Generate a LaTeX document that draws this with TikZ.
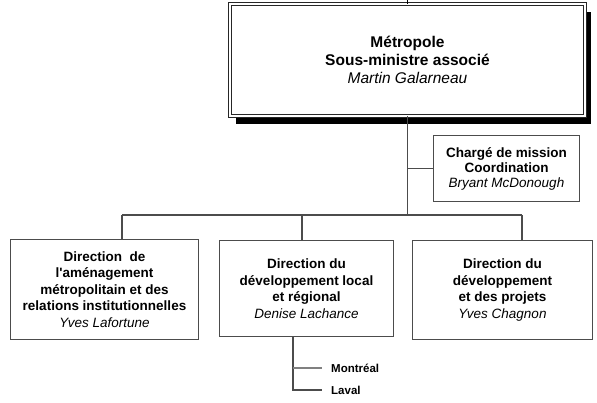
\documentclass[tikz,border=0pt]{standalone}
\usepackage{fontspec}
\setmainfont{Liberation Sans}
\usetikzlibrary{positioning,shadows}

\begin{document}
\begin{tikzpicture}[
        x=1pt, y=-1pt,
        every node/.style={
            align=center,
            inner sep=0pt
        },
        head/.style={
            draw=black!85,
            double=white,
            double distance=2.4pt,
            line width=0.9pt,
            fill=white,
            font=\fontsize{15.5}{18}\selectfont\bfseries,
            drop shadow={shadow xshift=6pt, shadow yshift=-8pt, opacity=1, fill=black}
        },
        unit/.style={
            draw=black!70,
            line width=1.1pt,
            fill=white,
            font=\fontsize{13.5}{16.5}\selectfont\bfseries
        },
        link/.style={draw=black!70, line width=1.1pt},
        city/.style={
            anchor=west,
            inner xsep=9pt,
            font=\fontsize{11.5}{13}\selectfont\bfseries
        }
    ]
        \useasboundingbox (0,0) rectangle (597,402);

        % Top box
        \node[head, minimum width=355pt, minimum height=112pt] (metro) at (407.5,60)
            {Métropole\\Sous-ministre associé\\{\mdseries\itshape Martin Galarneau}};

        % Staff box
        \node[unit, minimum width=146pt, minimum height=66pt,
              font=\fontsize{13.5}{15}\selectfont\bfseries] (charge) at (506.5,168.5)
            {Chargé de mission\\Coordination\\{\mdseries\itshape Bryant McDonough}};

        % Directions
        \node[unit, minimum width=188pt, minimum height=100pt] (dirA) at (104.5,289.5)
            {Direction\ \ de\\l\textquotesingle aménagement\\métropolitain et des\\relations institutionnelles\\{\mdseries\itshape Yves Lafortune}};
        \node[unit, minimum width=174pt, minimum height=96pt] (dirB) at (306.5,288.5)
            {Direction du\\développement local\\et régional\\{\mdseries\itshape Denise Lachance}};
        \node[unit, minimum width=180pt, minimum height=99pt] (dirC) at (502.5,290)
            {Direction du\\développement\\et des projets\\{\mdseries\itshape Yves Chagnon}};

        % Regions
        \node[city] (mtl) at (322,368) {Montréal};
        \node[city] (laval) at (322,390) {Laval};

        % Connectors
        \coordinate (toplink) at (407.5,0);
        \coordinate (bus) at (407.5,215);
        \coordinate (busA) at (122,215);
        \coordinate (busB) at (302,215);
        \coordinate (busC) at (522,215);
        \coordinate (stem) at (293,337);

        \draw[link, draw=black] (toplink) -- (metro.north);
        \draw[link] (metro.south) -- (bus);
        \draw[link] (bus |- charge.west) -- (charge.west);
        \draw[link] (busA) -- (busC);
        \draw[link] (busA) -- (busA |- dirA.north);
        \draw[link] (busB) -- (busB |- dirB.north);
        \draw[link] (busC) -- (busC |- dirC.north);
        \draw[link] (stem) |- (laval.west);
        \draw[link, draw=black!50] (stem |- mtl.west) -- (mtl.west);
    \end{tikzpicture}
\end{document}
